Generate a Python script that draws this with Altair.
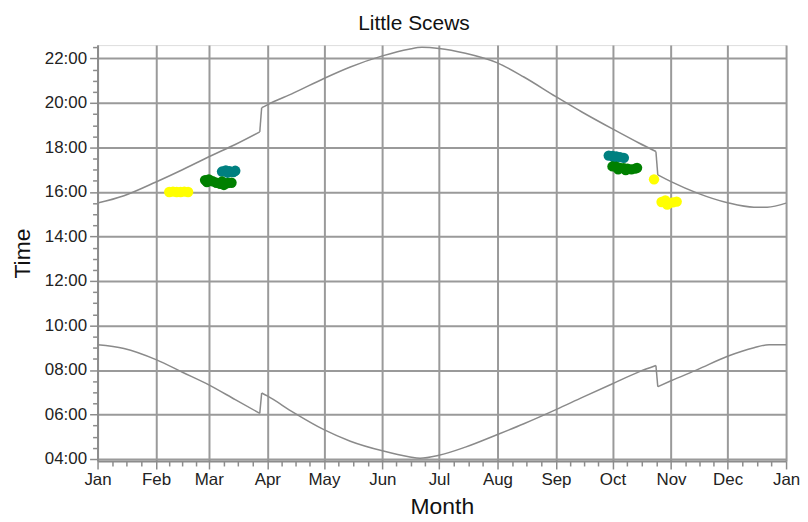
import altair as alt
import pandas as pd

TITLE = "Little Scews"

# Sunset curve (date, local clock time)
sunset_dates = ["2021-01-01", "2021-01-15", "2021-02-01", "2021-02-15", "2021-03-01",
                "2021-03-15", "2021-03-28", "2021-03-29", "2021-04-01", "2021-04-15",
                "2021-05-01", "2021-05-15", "2021-06-01", "2021-06-15", "2021-06-22",
                "2021-07-01", "2021-07-15", "2021-08-01", "2021-08-15", "2021-09-01",
                "2021-09-15", "2021-10-01", "2021-10-15", "2021-10-24", "2021-10-25",
                "2021-11-01", "2021-11-15", "2021-12-01", "2021-12-15", "2021-12-22",
                "2022-01-01"]
sunset_times = ["15:30", "15:50", "16:27", "17:00", "17:35",
                "18:08", "18:42", "19:47", "19:55", "20:27",
                "21:06", "21:37", "22:07", "22:25", "22:30",
                "22:27", "22:14", "21:48", "21:10", "20:17",
                "19:35", "18:50", "18:12", "17:49", "16:46",
                "16:28", "15:57", "15:31", "15:19", "15:19",
                "15:30"]

# Sunrise curve
sunrise_dates = ["2021-01-01", "2021-01-15", "2021-02-01", "2021-02-15", "2021-03-01",
                 "2021-03-15", "2021-03-28", "2021-03-29", "2021-04-01", "2021-04-15",
                 "2021-05-01", "2021-05-15", "2021-06-01", "2021-06-15", "2021-06-21",
                 "2021-07-01", "2021-07-15", "2021-08-01", "2021-08-15", "2021-09-01",
                 "2021-09-15", "2021-10-01", "2021-10-15", "2021-10-24", "2021-10-25",
                 "2021-11-01", "2021-11-15", "2021-12-01", "2021-12-15", "2021-12-23",
                 "2022-01-01"]
sunrise_times = ["09:08", "08:58", "08:28", "07:54", "07:20",
                 "06:40", "06:03", "06:58", "06:50", "06:05",
                 "05:19", "04:48", "04:22", "04:06", "04:02",
                 "04:10", "04:32", "05:06", "05:35", "06:13",
                 "06:46", "07:23", "07:55", "08:12", "07:15",
                 "07:31", "08:01", "08:37", "09:00", "09:08",
                 "09:08"]

# Clock-change days (the curve jumps between these and the next day)
dst_change = ["2021-03-28", "2021-10-24"]

# Observation clusters
teal_dates = ["2021-03-08", "2021-03-10", "2021-03-11", "2021-03-12", "2021-03-14", "2021-03-15",
              "2021-09-29", "2021-10-01", "2021-10-02", "2021-10-03", "2021-10-05", "2021-10-07"]
teal_times = ["16:55", "16:58", "16:52", "16:56", "16:54", "16:57",
              "17:38", "17:37", "17:33", "17:36", "17:34", "17:32"]
green_dates = ["2021-02-27", "2021-02-28", "2021-03-01", "2021-03-03", "2021-03-05", "2021-03-07",
               "2021-03-08", "2021-03-09", "2021-03-11", "2021-03-13",
               "2021-10-01", "2021-10-03", "2021-10-04", "2021-10-05", "2021-10-07",
               "2021-10-08", "2021-10-09", "2021-10-11", "2021-10-13", "2021-10-14"]
green_times = ["16:32", "16:27", "16:34", "16:29", "16:25", "16:22",
               "16:28", "16:19", "16:24", "16:25",
               "17:09", "17:08", "17:01", "17:05", "17:04",
               "16:59", "17:03", "17:01", "17:03", "17:05"]
yellow_dates = ["2021-02-08", "2021-02-10", "2021-02-12", "2021-02-14", "2021-02-16", "2021-02-18",
                "2021-10-23",
                "2021-10-27", "2021-10-29", "2021-10-30", "2021-10-31", "2021-11-02", "2021-11-04"]
yellow_times = ["16:00", "16:01", "16:00", "16:00", "16:01", "16:00",
                "16:34",
                "15:33", "15:37", "15:26", "15:30", "15:32", "15:34"]

group_names = ["teal", "green", "yellow"]
group_colors = ["#008080", "#008000", "#FFFF00"]

y_major = [4, 6, 8, 10, 12, 14, 16, 18, 20, 22]
y_minor = [4.5, 5, 5.5, 6.5, 7, 7.5, 8.5, 9, 9.5, 10.5, 11, 11.5, 12.5, 13, 13.5,
           14.5, 15, 15.5, 16.5, 17, 17.5, 18.5, 19, 19.5, 20.5, 21, 21.5, 22.5]
y_domain = [3.91, 22.6]


def hrs(t):
    h, m = t.split(":")
    return int(h) + int(m) / 60.0


def segments(name, dates, times):
    """Split a curve into smooth pieces at the clock changes, plus the jump pieces."""
    rows = []
    seg = 0
    for i, (d, t) in enumerate(zip(dates, times)):
        rows.append({"date": d, "hour": hrs(t), "series": f"{name}-{seg}"})
        if d in dst_change and i + 1 < len(dates):
            d2, t2 = dates[i + 1], times[i + 1]
            rows.append({"date": d, "hour": hrs(t), "series": f"{name}-jump{seg}"})
            rows.append({"date": d2, "hour": hrs(t2), "series": f"{name}-jump{seg}"})
            seg += 1
    return rows


lines = pd.DataFrame(segments("sunset", sunset_dates, sunset_times) +
                     segments("sunrise", sunrise_dates, sunrise_times))
lines["date"] = pd.to_datetime(lines["date"])

points = pd.concat([
    pd.DataFrame({"date": pd.to_datetime(teal_dates), "hour": [hrs(t) for t in teal_times], "group": "teal"}),
    pd.DataFrame({"date": pd.to_datetime(green_dates), "hour": [hrs(t) for t in green_times], "group": "green"}),
    pd.DataFrame({"date": pd.to_datetime(yellow_dates), "hour": [hrs(t) for t in yellow_times], "group": "yellow"}),
], ignore_index=True)

month_vals = [alt.DateTime(year=2021, month=m, date=1) for m in range(1, 13)] + [alt.DateTime(year=2022, month=1, date=1)]
minor_x = []
for m in range(1, 13):
    s = pd.Timestamp(2021, m, 1)
    e = pd.Timestamp(2022, 1, 1) if m == 12 else pd.Timestamp(2021, m + 1, 1)
    for k in (1, 2, 3):
        t = s + (e - s) * k / 4
        minor_x.append(alt.DateTime(year=t.year, month=t.month, date=t.day, hours=t.hour))
x_domain = [alt.DateTime(year=2021, month=1, date=1), alt.DateTime(year=2022, month=1, date=1)]

FONT = "Liberation Sans"
GRID = "#9a9a9a"
AX = "#8c8c8c"

x_scale = alt.Scale(domain=x_domain)
y_scale = alt.Scale(domain=y_domain, nice=False, zero=False)

minor = alt.Chart(lines).mark_line(opacity=0).encode(
    x=alt.X("date:T", scale=x_scale, axis=alt.Axis(values=minor_x, labels=False, grid=False, domain=False,
                                                  tickSize=5, tickColor=AX, tickWidth=1.5, title=None, orient="bottom")),
    y=alt.Y("hour:Q", scale=y_scale, axis=alt.Axis(values=y_minor, labels=False, grid=False, domain=False,
                                                  tickSize=5, tickColor=AX, tickWidth=1.5, title=None, orient="left")),
    detail="series:N",
)

main = alt.Chart(lines).mark_line(color="#8a8a8a", strokeWidth=1.5, interpolate="monotone").encode(
    x=alt.X("date:T", scale=x_scale, axis=alt.Axis(
        values=month_vals, format="%b", grid=True, gridColor=GRID, gridWidth=2,
        domainColor=AX, domainWidth=2, tickColor=AX, tickWidth=1.5, tickSize=8,
        labelFont=FONT, labelFontSize=17, labelColor="#222222", labelPadding=3, labelFlush=False,
        title="Month", titleFont=FONT, titleFontSize=23, titleFontWeight="normal", titleColor="#111111",
        titlePadding=8, orient="bottom")),
    y=alt.Y("hour:Q", scale=y_scale, axis=alt.Axis(
        values=y_major, labelExpr="(datum.value < 10 ? '0' : '') + datum.value + ':00'",
        grid=True, gridColor=GRID, gridWidth=2,
        domainColor=AX, domainWidth=2, tickColor=AX, tickWidth=1.5, tickSize=8,
        labelFont=FONT, labelFontSize=17, labelColor="#222222", labelPadding=3,
        title="Time", titleFont=FONT, titleFontSize=23, titleFontWeight="normal", titleColor="#111111",
        titlePadding=10, orient="left")),
    detail="series:N",
)

pts = alt.Chart(points).mark_circle(size=110, opacity=1).encode(
    x=alt.X("date:T", scale=x_scale, axis=None),
    y=alt.Y("hour:Q", scale=y_scale, axis=None),
    color=alt.Color("group:N", scale=alt.Scale(domain=group_names, range=group_colors), legend=None),
)

chart = alt.layer(minor, main, pts).resolve_axis(x="independent", y="independent").properties(
    width=692, height=418,
    title=alt.TitleParams(TITLE, font=FONT, fontSize=21, fontWeight="normal", color="#111111",
                          anchor="middle", dx=-28, offset=10),
    autosize=alt.AutoSizeParams(type="none"),
    padding={"left": 90, "top": 36, "right": 14, "bottom": 56},
).configure_view(stroke=None).configure(background="white")

chart.save("out.html", embed_options={"renderer": "svg", "actions": False})
